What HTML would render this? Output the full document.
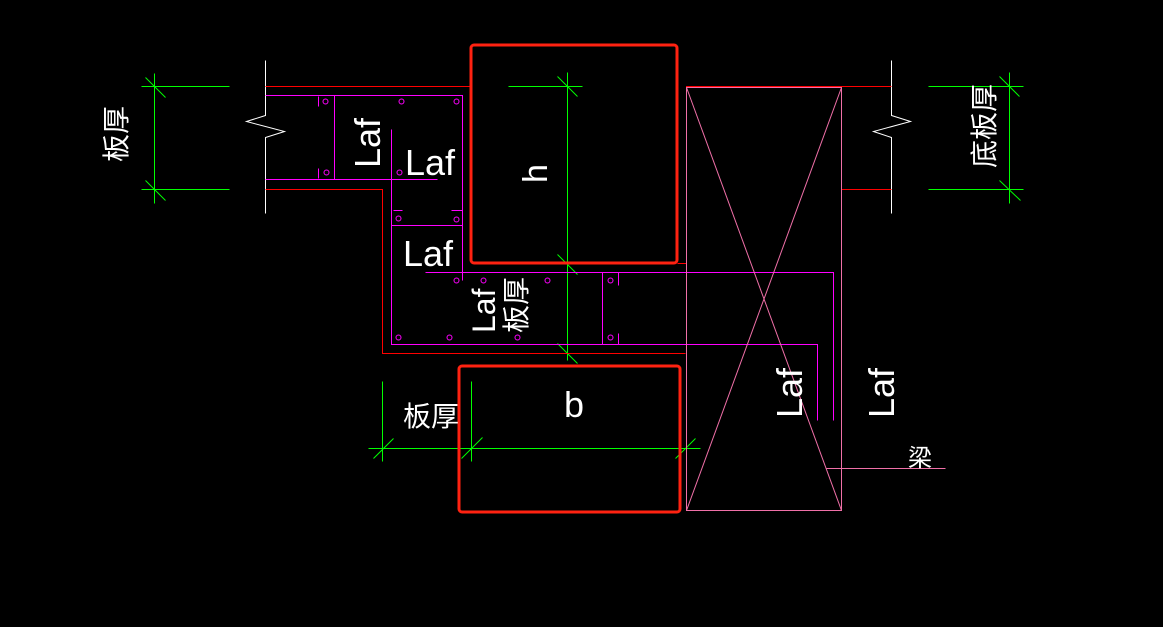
<!DOCTYPE html>
<html><head><meta charset="utf-8"><style>
html,body{margin:0;padding:0;background:#000;width:1163px;height:627px;overflow:hidden}
text{font-family:"Liberation Sans","Noto Sans CJK SC",sans-serif;fill:#fff;stroke:none}
</style></head><body>
<svg width="1163" height="627" viewBox="0 0 1163 627" xmlns="http://www.w3.org/2000/svg">
<rect width="1163" height="627" fill="#000"/>
<g fill="none" stroke-width="1" transform="translate(0.5,0.5)">
<g stroke="#0f0">
<line x1="154" y1="73" x2="154" y2="203"/><line x1="141" y1="86" x2="229" y2="86"/><line x1="141" y1="189" x2="229" y2="189"/>
<line x1="145" y1="77" x2="165" y2="97"/><line x1="145" y1="180" x2="165" y2="200"/>
<line x1="1009" y1="72" x2="1009" y2="203"/><line x1="928" y1="86" x2="1023" y2="86"/><line x1="928" y1="189" x2="1023" y2="189"/>
<line x1="999" y1="76" x2="1019" y2="96"/><line x1="999" y1="180" x2="1020" y2="200"/>
<line x1="567" y1="72" x2="567" y2="360"/><line x1="508" y1="86" x2="582" y2="86"/>
<line x1="557" y1="76" x2="577" y2="96"/><line x1="557" y1="254" x2="577" y2="274"/><line x1="557" y1="343" x2="577" y2="363"/>
<line x1="368" y1="448" x2="700" y2="448"/><line x1="382" y1="381" x2="382" y2="461"/><line x1="471" y1="381" x2="471" y2="461"/>
<line x1="373" y1="458" x2="393" y2="438"/><line x1="461" y1="458" x2="482" y2="437"/><line x1="675" y1="458" x2="695" y2="438"/>
</g>
<g stroke="#fff">
<polyline points="265,60 265,115 246,121 284,131 265,137 265,213"/>
<polyline points="891,60 891,115 910,121 873,131 891,137 891,213"/>
</g>
<g stroke="#f00">
<line x1="265" y1="86" x2="470" y2="86"/>
<polyline points="265,189 382,189 382,353 685,353"/>
<polyline points="686,265 686,86 891,86"/>
<line x1="841" y1="189" x2="891" y2="189"/>
<line x1="677" y1="263" x2="686" y2="263"/>
</g>
<g stroke="#f0f">
<polyline points="265,95 462,95 462,280"/>
<line x1="265" y1="179" x2="437" y2="179"/>
<line x1="334" y1="95" x2="334" y2="179"/>
<line x1="318" y1="96" x2="318" y2="106"/><line x1="318" y1="168" x2="318" y2="178"/>
<polyline points="391,129 391,344 817,344 817,420"/>
<polyline points="425,272 833,272 833,420"/>
<line x1="391" y1="225" x2="462" y2="225"/>
<line x1="393" y1="210" x2="402" y2="210"/><line x1="451" y1="210" x2="462" y2="210"/>
<line x1="602" y1="272" x2="602" y2="344"/>
<line x1="618" y1="272" x2="618" y2="285"/><line x1="618" y1="333" x2="618" y2="344"/>
<circle cx="325" cy="101" r="2.5"/><circle cx="326" cy="172" r="2.5"/><circle cx="401" cy="101" r="2.5"/><circle cx="456" cy="101" r="2.5"/>
<circle cx="399" cy="172" r="2.5"/><circle cx="398" cy="218" r="2.5"/><circle cx="456" cy="219" r="2.5"/>
<circle cx="456" cy="280" r="2.5"/><circle cx="483" cy="280" r="2.5"/><circle cx="547" cy="280" r="2.5"/><circle cx="610" cy="280" r="2.5"/>
<circle cx="398" cy="337" r="2.5"/><circle cx="449" cy="337" r="2.5"/><circle cx="517" cy="337" r="2.5"/><circle cx="610" cy="337" r="2.5"/>
</g>
<g stroke="#f070a8">
<rect x="686" y="87" width="155" height="423"/>
<line x1="686" y1="87" x2="841" y2="510"/><line x1="841" y1="87" x2="686" y2="510"/>
<line x1="826" y1="468" x2="945" y2="468"/>
</g>
</g>
<rect x="471" y="45" width="206" height="218" rx="3" fill="none" stroke="#f21" stroke-width="3"/>
<rect x="459" y="366" width="221" height="146" rx="3" fill="none" stroke="#f21" stroke-width="3"/>
<text font-size="28" transform="translate(126,162) rotate(-90)">板厚</text>
<text font-size="28" transform="translate(994,168) rotate(-90)">底板厚</text>
<text font-size="36" transform="translate(380,168) rotate(-90)">Laf</text>
<text x="405" y="175" font-size="36">Laf</text>
<text x="403" y="266" font-size="36">Laf</text>
<text font-size="32" transform="translate(495,333) rotate(-90)">Laf</text>
<text font-size="28" transform="translate(526,333) rotate(-90)">板厚</text>
<text font-size="34" transform="translate(547,183) rotate(-90)">h</text>
<text x="403" y="426" font-size="28">板厚</text>
<text x="564" y="417" font-size="36">b</text>
<text font-size="36" transform="translate(802,418) rotate(-90)">Laf</text>
<text font-size="36" transform="translate(894,418) rotate(-90)">Laf</text>
<text x="908" y="466" font-size="24">梁</text>
</svg>
</body></html>
